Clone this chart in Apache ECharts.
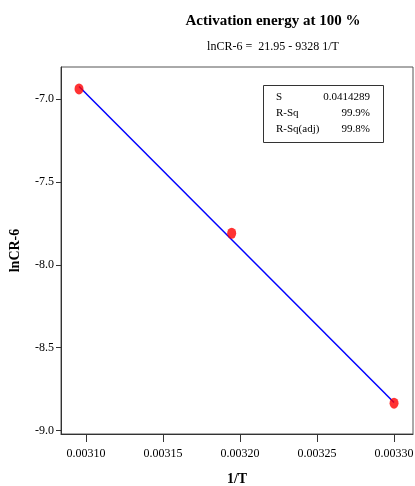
<!DOCTYPE html>
<html>
<head>
<meta charset="utf-8">
<script src="https://cdn.jsdelivr.net/npm/echarts@6/dist/echarts.min.js"></script>
<style>html,body{margin:0;padding:0;background:#fff}#c{width:415px;height:486px}</style>
</head>
<body>
<div id="c"></div>
<script>
// Observed data points (1/T, lnCR-6)
var invT = [0.0030955, 0.0031946, 0.0033000];
var lnCR = [-6.94, -7.81, -8.834];
// Fitted regression line endpoints
var fitX = [0.0030955, 0.0033000];
var fitY = [-6.926, -8.830];
// Tick labels
var xTicks = [0.00310, 0.00315, 0.00320, 0.00325, 0.00330];
var yTicks = [-9.0, -8.5, -8.0, -7.5, -7.0];
// Statistics table
var statNames = ['S', 'R-Sq', 'R-Sq(adj)'];
var statValues = ['0.0414289', '99.9%', '99.8%'];

var FONT = 'Liberation Serif';
var chart = echarts.init(document.getElementById('c'), null, {renderer: 'canvas'});

var graphics = [{
  type: 'rect', left: 263, top: 85,
  shape: {width: 120, height: 57},
  style: {fill: '#fff', stroke: '#333', lineWidth: 1}
}];
for (var i = 0; i < statNames.length; i++) {
  graphics.push({type: 'text', left: 276, top: 92 + i * 16,
    style: {text: statNames[i], font: '11px "' + FONT + '"', fill: '#000'}});
  graphics.push({type: 'text', right: 45, top: 92 + i * 16,
    style: {text: statValues[i], font: '11px "' + FONT + '"', fill: '#000', textAlign: 'right'}});
}

chart.setOption({
  animation: false,
  backgroundColor: '#fff',
  title: [{
    text: 'Activation energy at 100 %',
    left: 268, top: 9, textAlign: 'center',
    textStyle: {fontFamily: FONT, fontSize: 15, fontWeight: 'bold', color: '#000'}
  }, {
    text: 'lnCR-6 =  21.95 - 9328 1/T',
    left: 268, top: 36, textAlign: 'center',
    textStyle: {fontFamily: FONT, fontSize: 12, fontWeight: 'normal', color: '#000'}
  }],
  grid: {left: 61, top: 67, right: 2, bottom: 52, containLabel: false, outerBoundsMode: 'none',
    show: true, borderColor: '#555', borderWidth: 1, backgroundColor: '#fff'},
  xAxis: {
    type: 'value', min: 0.0030838, max: 0.0033123,
    name: '1/T', nameLocation: 'middle', nameGap: 38,
    nameTextStyle: {fontFamily: FONT, fontSize: 14, fontWeight: 'bold', color: '#000'},
    axisLine: {show: true, lineStyle: {color: '#333', width: 1}},
    axisTick: {show: true, inside: false, length: 8, customValues: xTicks, lineStyle: {color: '#333'}},
    axisLabel: {customValues: xTicks, fontFamily: FONT, fontSize: 12, color: '#000', margin: 14,
      formatter: function (v) { return v.toFixed(5); }},
    splitLine: {show: false}
  },
  yAxis: {
    type: 'value', min: -9.02, max: -6.808,
    name: 'lnCR-6', nameLocation: 'middle', nameGap: 39, nameRotate: 90,
    nameTextStyle: {fontFamily: FONT, fontSize: 14, fontWeight: 'bold', color: '#000'},
    axisLine: {show: true, lineStyle: {color: '#333', width: 1}},
    axisTick: {show: true, inside: false, length: 5, customValues: yTicks, lineStyle: {color: '#333'}},
    axisLabel: {customValues: yTicks, fontFamily: FONT, fontSize: 12, color: '#000', margin: 7,
      formatter: function (v) { return v.toFixed(1); }},
    splitLine: {show: false}
  },
  series: [{
    type: 'line',
    data: fitX.map(function (x, i) { return [x, fitY[i]]; }),
    showSymbol: false, symbol: 'none',
    lineStyle: {color: '#0000ff', width: 1.5},
    z: 2
  }, {
    type: 'scatter',
    data: invT.map(function (x, i) { return [x, lnCR[i]]; }),
    symbol: 'circle', symbolSize: [9, 11],
    itemStyle: {color: '#ff0000'},
    z: 3
  }],
  graphic: graphics
});
</script>
</body>
</html>
